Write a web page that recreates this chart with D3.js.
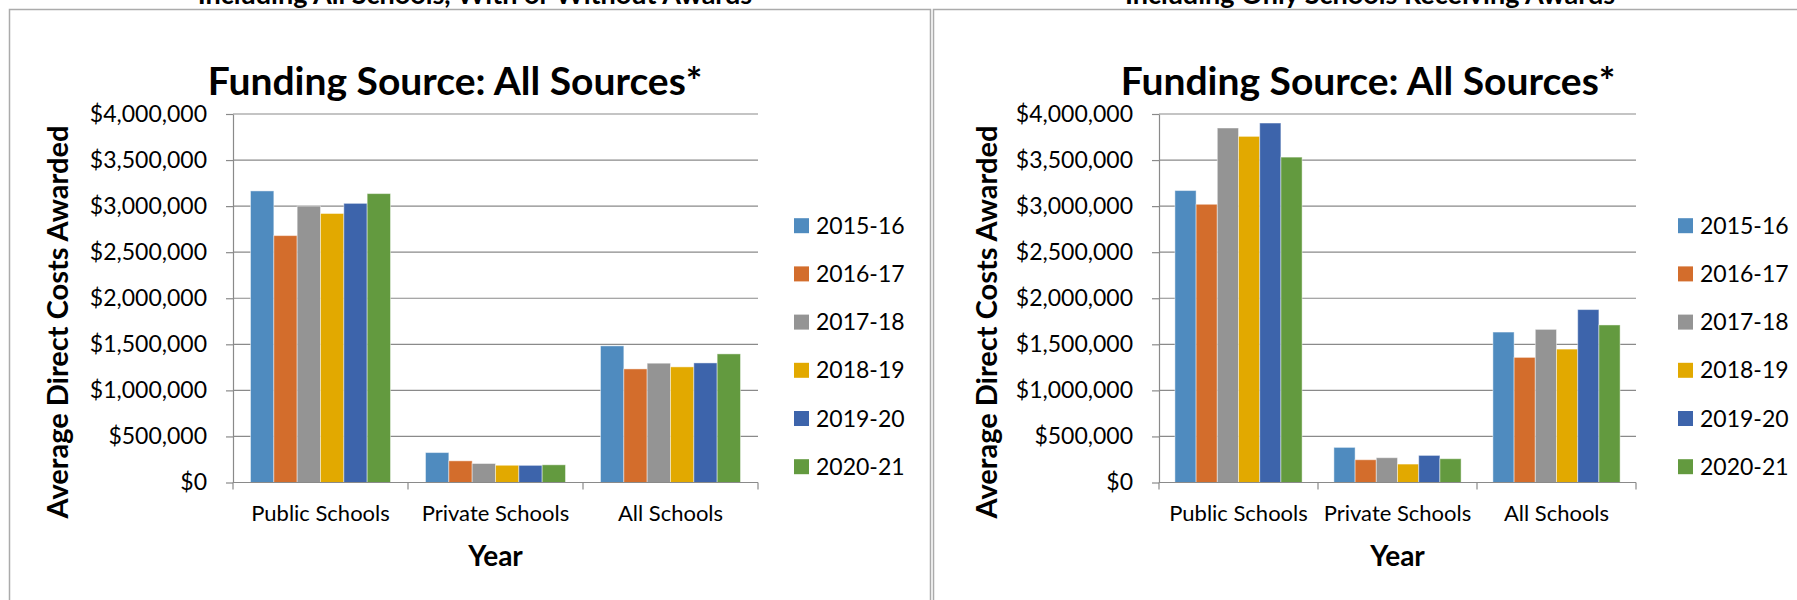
<!DOCTYPE html>
<html>
<head>
<meta charset="utf-8">
<script src="https://cdn.jsdelivr.net/npm/d3@7/dist/d3.min.js"></script>
<style>
  body { margin: 0; background: #fff; }
  svg { display: block; font-family: Lato, "Open Sans", sans-serif; }
</style>
</head>
<body>
<div id="chart"></div>
<script>
var categories = ["Public Schools", "Private Schools", "All Schools"];
var years = ["2015-16", "2016-17", "2017-18", "2018-19", "2019-20", "2020-21"];
var yearColors = ["#4f8bbf", "#d36d2c", "#949494", "#e2a900", "#3d64ab", "#639a3f"];
var yTicks = [0, 500000, 1000000, 1500000, 2000000, 2500000, 3000000, 3500000, 4000000];

// left panel: all schools, with or without awards
var allPublic = [3165000, 2680000, 3000000, 2920000, 3030000, 3136000];
var allPrivate = [325000, 235000, 206000, 187000, 186000, 192000];
var allAll = [1483000, 1233000, 1295000, 1255000, 1298000, 1396000];

// right panel: only schools receiving awards
var awardPublic = [3169000, 3020000, 3848000, 3757000, 3902000, 3532000];
var awardPrivate = [381000, 247000, 269000, 200000, 294000, 258000];
var awardAll = [1633000, 1358000, 1662000, 1448000, 1877000, 1710000];

function BarPanel(params) {

  var attrs = Object.assign({
    svg: null,
    values: [],
    heading: "",
    title: "Funding Source: All Sources*",
    yTitle: "Average Direct Costs Awarded",
    xTitle: "Year",
    panelLeft: 0,
    panelWidth: 900,
    panelTop: 9.5,
    headingX: 0,
    titleX: 0,
    plotLeft: 0,
    plotRight: 0,
    plotTop: 114,
    plotBottom: 482.5,
    yTitleX: 0,
    legendX: 0
  }, params);

  function main() {
    var g = attrs.svg.append("g");
    var gray = "#8a8a8a";

    // panel frame, runs off the bottom of the picture
    g.append("rect")
      .attr("x", attrs.panelLeft)
      .attr("y", attrs.panelTop)
      .attr("width", attrs.panelWidth)
      .attr("height", 1000)
      .attr("fill", "none")
      .attr("stroke", "#ababab")
      .attr("stroke-width", 1.5);

    // heading above the frame (cut off at the top, as in the source)
    g.append("text")
      .attr("x", attrs.headingX)
      .attr("y", 4)
      .attr("text-anchor", "middle")
      .attr("font-weight", "bold")
      .attr("font-size", 27)
      .text(attrs.heading);

    g.append("text")
      .attr("x", attrs.titleX)
      .attr("y", 95)
      .attr("text-anchor", "middle")
      .attr("font-weight", "bold")
      .attr("font-size", 39)
      .text(attrs.title);

    var y = d3.scaleLinear()
      .domain([0, 4000000])
      .range([attrs.plotBottom, attrs.plotTop]);

    var x0 = d3.scaleBand()
      .domain(categories)
      .range([attrs.plotLeft, attrs.plotRight]);

    var x1 = d3.scaleBand()
      .domain(years)
      .range([0, x0.bandwidth()])
      .paddingInner(0)
      .paddingOuter(0.75);

    var color = d3.scaleOrdinal().domain(years).range(yearColors);

    var rows = categories.map(function (c, i) {
      return {
        cat: c,
        vals: years.map(function (yr, j) { return { year: yr, value: attrs.values[i][j] }; })
      };
    });

    // gridlines
    g.append("g")
      .selectAll("line")
      .data(yTicks)
      .join("line")
      .attr("x1", attrs.plotLeft)
      .attr("x2", attrs.plotRight)
      .attr("y1", d => y(d))
      .attr("y2", d => y(d))
      .attr("stroke", gray)
      .attr("stroke-width", 1.2);

    // bars
    g.append("g")
      .selectAll("g")
      .data(rows)
      .join("g")
      .attr("transform", d => `translate(${x0(d.cat)},0)`)
      .selectAll("rect")
      .data(d => d.vals)
      .join("rect")
      .attr("x", d => x1(d.year))
      .attr("y", d => y(d.value))
      .attr("width", x1.bandwidth())
      .attr("height", d => y(0) - y(d.value))
      .attr("fill", d => color(d.year))
      .attr("stroke", "rgba(255,255,255,0.45)")
      .attr("stroke-width", 1);

    // y axis
    var yAxis = g.append("g")
      .attr("transform", `translate(${attrs.plotLeft},0)`)
      .call(d3.axisLeft(y)
        .tickValues(yTicks)
        .tickFormat(d3.format("$,.0f"))
        .tickSize(7)
        .tickSizeOuter(0)
        .tickPadding(19))
      .attr("font-family", null)
      .attr("font-size", null);
    yAxis.selectAll("path, line").attr("stroke", gray).attr("stroke-width", 1.2);
    yAxis.selectAll("text").attr("font-size", 23).attr("fill", "#000");

    // x axis line and category boundary ticks
    g.append("line")
      .attr("x1", attrs.plotLeft)
      .attr("x2", attrs.plotRight)
      .attr("y1", y(0))
      .attr("y2", y(0))
      .attr("stroke", gray)
      .attr("stroke-width", 1.2);

    g.append("g")
      .selectAll("line")
      .data(categories.map(c => x0(c)).concat([attrs.plotRight]))
      .join("line")
      .attr("x1", d => d)
      .attr("x2", d => d)
      .attr("y1", y(0))
      .attr("y2", y(0) + 7)
      .attr("stroke", gray)
      .attr("stroke-width", 1.2);

    g.append("g")
      .selectAll("text")
      .data(categories)
      .join("text")
      .attr("x", d => x0(d) + x0.bandwidth() / 2)
      .attr("y", 520.7)
      .attr("text-anchor", "middle")
      .attr("font-size", 22)
      .text(d => d);

    g.append("text")
      .attr("x", (attrs.plotLeft + attrs.plotRight) / 2)
      .attr("y", 566)
      .attr("text-anchor", "middle")
      .attr("font-weight", "bold")
      .attr("font-size", 28)
      .text(attrs.xTitle);

    g.append("text")
      .attr("transform", `translate(${attrs.yTitleX},322) rotate(-90)`)
      .attr("text-anchor", "middle")
      .attr("font-weight", "bold")
      .attr("font-size", 29)
      .text(attrs.yTitle);

    // legend
    var legend = g.append("g")
      .selectAll("g")
      .data(years)
      .join("g")
      .attr("transform", (d, i) => `translate(${attrs.legendX},${225.7 + i * 48.2})`);

    legend.append("rect")
      .attr("x", 0)
      .attr("y", -7.5)
      .attr("width", 15)
      .attr("height", 15)
      .attr("fill", d => color(d));

    legend.append("text")
      .attr("x", 22)
      .attr("y", 0)
      .attr("dy", "0.35em")
      .attr("font-size", 23)
      .text(d => d);
  }

  main.render = function () {
    main();
    return main;
  };

  return main;
}

var svg = d3.select("#chart")
  .append("svg")
  .attr("width", 1797)
  .attr("height", 600);

BarPanel({
  svg: svg,
  values: [allPublic, allPrivate, allAll],
  heading: "Including All Schools, With or Without Awards",
  panelLeft: 9.5,
  panelWidth: 921,
  headingX: 475,
  titleX: 455,
  plotLeft: 233,
  plotRight: 758,
  yTitleX: 68,
  legendX: 794
}).render();

BarPanel({
  svg: svg,
  values: [awardPublic, awardPrivate, awardAll],
  heading: "Including Only Schools Receiving Awards",
  panelLeft: 933.5,
  panelWidth: 900,
  headingX: 1370,
  titleX: 1368,
  plotLeft: 1159,
  plotRight: 1636,
  yTitleX: 997,
  legendX: 1678
}).render();
</script>
</body>
</html>
